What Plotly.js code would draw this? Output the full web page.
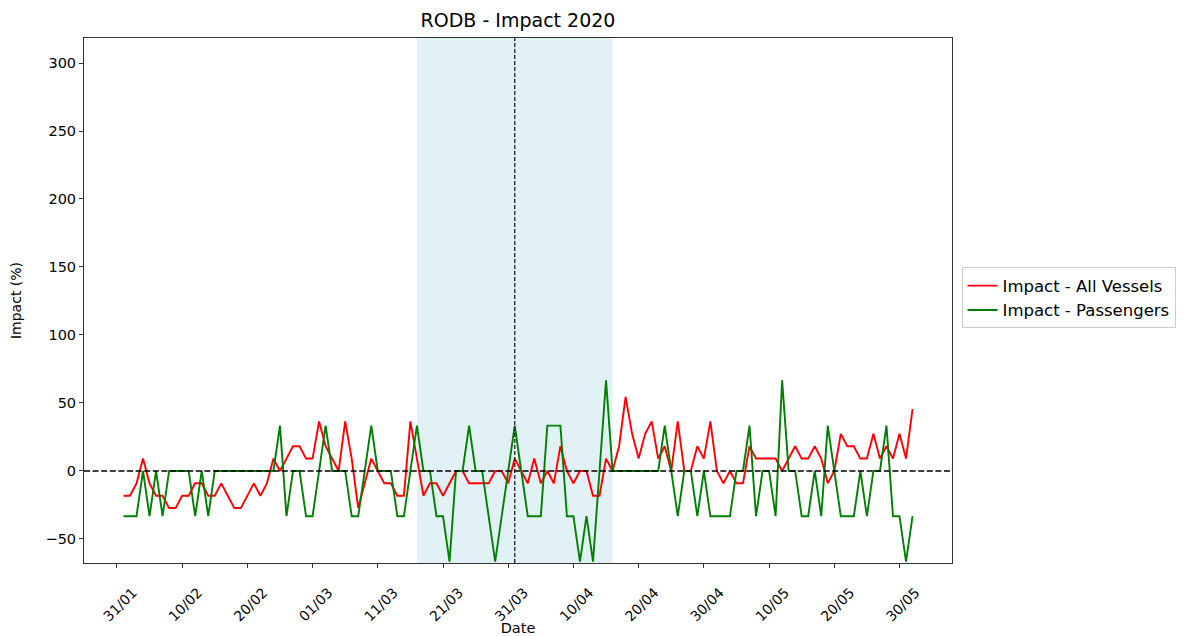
<!DOCTYPE html>
<html>
<head>
<meta charset="utf-8">
<script src="https://cdn.plot.ly/plotly-3.0.1.min.js"></script>
<style>
  html, body { margin: 0; padding: 0; background: #fff; }
  #chart { width: 1194px; height: 636px; }
</style>
</head>
<body>
<div id="chart"></div>
<script>
// Daily impact series, starting 1 Feb 2020 (one value per day)
const startDate = '2020-02-01';

const allVessels = [
  -18.2, -18.2, -9.1, 9.1, -9.1, -18.2, -18.2, -27.3, -27.3, -18.2,
  -18.2, -9.1, -9.1, -18.2, -18.2, -9.1, -18.2, -27.3, -27.3, -18.2,
  -9.1, -18.2, -9.1, 9.1, 0, 9.1, 18.2, 18.2, 9.1, 9.1,
  36.4, 18.2, 9.1, 0, 36.4, 9.1, -27.3, -9.1, 9.1, 0,
  -9.1, -9.1, -18.2, -18.2, 36.4, 9.1, -18.2, -9.1, -9.1, -18.2,
  -9.1, 0, 0, -9.1, -9.1, -9.1, -9.1, 0, 0, -9.1,
  9.1, 0, -9.1, 9.1, -9.1, 0, -9.1, 18.2, 0, -9.1,
  0, 0, -18.2, -18.2, 9.1, 0, 18.2, 54.5, 27.3, 9.1,
  27.3, 36.4, 9.1, 18.2, 0, 36.4, 0, 0, 18.2, 9.1,
  36.4, 0, -9.1, 0, -9.1, -9.1, 18.2, 9.1, 9.1, 9.1,
  9.1, 0, 9.1, 18.2, 9.1, 9.1, 18.2, 9.1, -9.1, 0,
  27.3, 18.2, 18.2, 9.1, 9.1, 27.3, 9.1, 18.2, 9.1, 27.3,
  9.1, 45.5
];

const passengers = [
  -33.3, -33.3, -33.3, 0, -33.3, 0, -33.3, 0, 0, 0,
  0, -33.3, 0, -33.3, 0, 0, 0, 0, 0, 0,
  0, 0, 0, 0, 33.3, -33.3, 0, 0, -33.3, -33.3,
  0, 33.3, 0, 0, 0, -33.3, -33.3, 0, 33.3, 0,
  0, 0, -33.3, -33.3, 0, 33.3, 0, 0, -33.3, -33.3,
  -66.7, 0, 0, 33.3, 0, 0, -33.3, -66.7, -33.3, 0,
  33.3, 0, -33.3, -33.3, -33.3, 33.3, 33.3, 33.3, -33.3, -33.3,
  -66.7, -33.3, -66.7, 0, 66.7, 0, 0, 0, 0, 0,
  0, 0, 0, 33.3, 0, -33.3, 0, 0, -33.3, 0,
  -33.3, -33.3, -33.3, -33.3, 0, 0, 33.3, -33.3, 0, 0,
  -33.3, 66.7, 0, 0, -33.3, -33.3, 0, -33.3, 33.3, 0,
  -33.3, -33.3, -33.3, 0, -33.3, 0, 0, 33.3, -33.3, -33.3,
  -66.7, -33.3
];

// Tick positions / labels on the date axis
const tickDates = ['2020-01-31', '2020-02-10', '2020-02-20', '2020-03-01', '2020-03-11',
  '2020-03-21', '2020-03-31', '2020-04-10', '2020-04-20', '2020-04-30',
  '2020-05-10', '2020-05-20', '2020-05-30'];
const tickLabels = ['31/01', '10/02', '20/02', '01/03', '11/03', '21/03', '31/03',
  '10/04', '20/04', '30/04', '10/05', '20/05', '30/05'];
const yTicks = [-50, 0, 50, 100, 150, 200, 250, 300];

// Lockdown window and reference date
const spanStart = '2020-03-17';
const spanEnd = '2020-04-16';
const markerDate = '2020-04-01';

function dayList(start, n) {
  const out = [];
  const t0 = Date.parse(start + 'T00:00:00Z');
  for (let i = 0; i < n; i++) {
    out.push(new Date(t0 + i * 86400000).toISOString().slice(0, 10));
  }
  return out;
}
const dates = dayList(startDate, allVessels.length);

const FONT = 'DejaVu Sans, sans-serif';

const traces = [
  { x: dates, y: allVessels, type: 'scatter', mode: 'lines',
    name: 'Impact - All Vessels', line: { color: '#ff0000', width: 1.9 } },
  { x: dates, y: passengers, type: 'scatter', mode: 'lines',
    name: 'Impact - Passengers', line: { color: '#008000', width: 1.9 } }
];

const layout = {
  width: 1194, height: 636,
  margin: { l: 84, r: 242, t: 38, b: 73 },
  paper_bgcolor: '#fff', plot_bgcolor: '#fff',
  font: { family: FONT, size: 14, color: '#000' },
  title: { text: 'RODB - Impact 2020', x: 0.5, xref: 'paper', xanchor: 'center',
    y: 1 - 20 / 636, yref: 'container', yanchor: 'middle',
    font: { family: FONT, size: 19, color: '#000' } },
  xaxis: {
    type: 'date',
    range: ['2020-01-25 22:48', '2020-06-07 01:12'],
    tickmode: 'array', tickvals: tickDates, ticktext: tickLabels,
    tickangle: -45, ticks: 'outside', ticklen: 4, tickcolor: '#333',
    ticklabelshift: 16, ticklabelstandoff: 11,
    showgrid: false, zeroline: false,
    showline: true, linecolor: '#333', linewidth: 1, mirror: true,
    tickfont: { family: FONT, size: 14, color: '#000' },
    title: { text: 'Date', font: { family: FONT, size: 14.5, color: '#000' }, standoff: 6 }
  },
  yaxis: {
    range: [-67.7, 318.4],
    tickmode: 'array', tickvals: yTicks,
    ticks: 'outside', ticklen: 4, tickcolor: '#333',
    showgrid: false, zeroline: false,
    showline: true, linecolor: '#333', linewidth: 1, mirror: true,
    tickfont: { family: FONT, size: 14.5, color: '#000' },
    title: { text: 'Impact (%)', font: { family: FONT, size: 14, color: '#000' }, standoff: 20 }
  },
  legend: {
    x: 1.011, xanchor: 'left', y: 0.505, yanchor: 'middle',
    bgcolor: '#fff', bordercolor: '#cccccc', borderwidth: 1,
    font: { family: FONT, size: 16.5, color: '#000' }
  },
  shapes: [
    { type: 'rect', xref: 'x', yref: 'paper', x0: spanStart, x1: spanEnd, y0: 0, y1: 1,
      fillcolor: 'rgba(173,216,230,0.35)', line: { width: 0 }, layer: 'below' },
    { type: 'line', xref: 'x', yref: 'paper', x0: markerDate, x1: markerDate, y0: 0, y1: 1,
      line: { color: '#222', width: 1.3, dash: '4px,2px' } },
    { type: 'line', xref: 'paper', yref: 'y', x0: 0, x1: 1, y0: 0, y1: 0,
      line: { color: '#000', width: 1.4, dash: '6px,2.6px' } }
  ]
};

Plotly.newPlot('chart', traces, layout, { displayModeBar: false, staticPlot: true });
</script>
</body>
</html>
